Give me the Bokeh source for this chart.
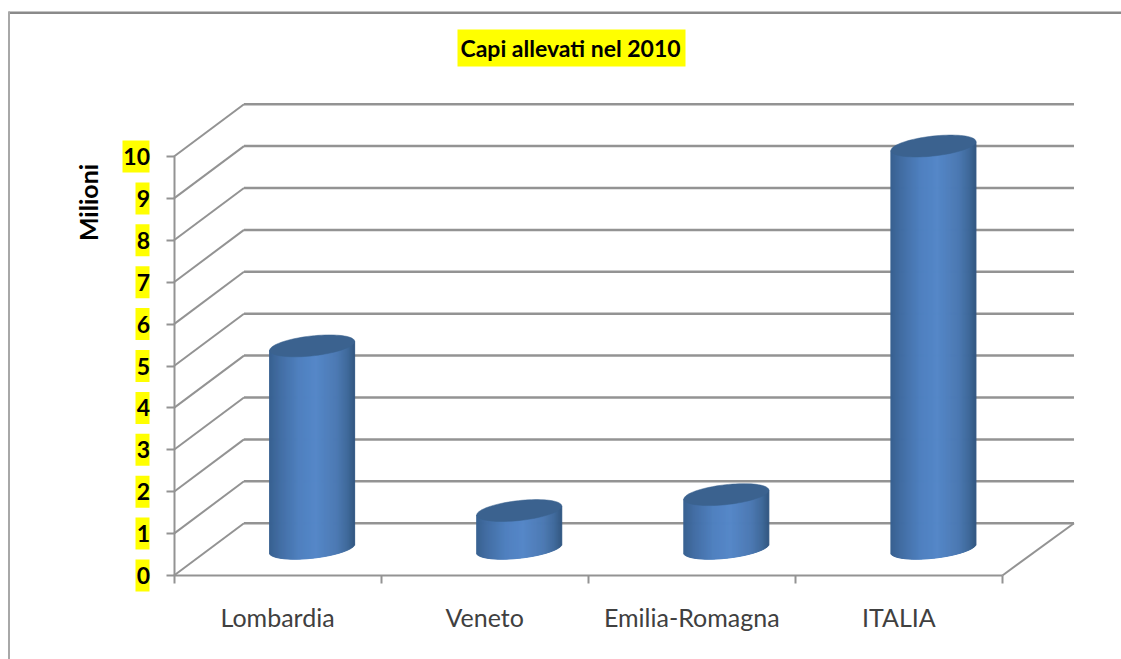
from bokeh.plotting import figure
from bokeh.models import FixedTicker, LinearAxis, Range1d
from bokeh.core.properties import value
from bokeh.embed import file_html
from bokeh.resources import INLINE
import numpy as np

categories = ["Lombardia", "Veneto", "Emilia-Romagna", "ITALIA"]
values = [4.83, 0.90, 1.28, 9.60]
y_ticks = list(range(0, 11))
title_text = "Capi allevati nel 2010"
y_title = "Milioni"

GRID = "#939393"
W, H = 1121, 659
X0, Y0 = 173.5, 575    # pixel of the (0, 0) corner
STEP_X = 207.1
STEP_Y = 41.9

def X(px):
    return (px - X0) / STEP_X
def Y(py):
    return (Y0 - py) / STEP_Y

p = figure(width=W, height=H, output_backend="svg", toolbar_location=None,
           x_range=Range1d(X(0), X(W)), y_range=Range1d(Y(H), Y(0)),
           x_axis_type=None, y_axis_type=None, min_border=0)
p.outline_line_color = None
p.background_fill_color = "white"
p.border_fill_color = "white"
p.xgrid.visible = False
p.ygrid.visible = False

yax = LinearAxis(ticker=FixedTicker(ticks=y_ticks), bounds=(0, 10), fixed_location=0)
yax.axis_line_color = GRID
yax.axis_line_width = 2
yax.major_tick_line_color = GRID
yax.major_tick_line_width = 2
yax.major_tick_out = 8
yax.major_tick_in = 0
yax.minor_tick_line_color = None
yax.major_label_standoff = 16
yax.major_label_text_font = "Lato"
yax.major_label_text_font_style = "bold"
yax.major_label_text_font_size = "23px"
yax.major_label_text_color = "black"
p.add_layout(yax, "left")

centers = [i + 0.5 for i in range(len(categories))]
edges = list(range(len(categories) + 1))
xax = LinearAxis(ticker=FixedTicker(ticks=centers, minor_ticks=edges), bounds=(0, len(categories)), fixed_location=0)
xax.major_label_overrides = {c: n for c, n in zip(centers, categories)}
xax.axis_line_color = GRID
xax.axis_line_width = 2
xax.major_tick_line_color = None
xax.minor_tick_line_color = GRID
xax.minor_tick_line_width = 2
xax.minor_tick_out = 8
xax.minor_tick_in = 0
xax.major_label_standoff = 18
xax.major_label_text_font = "Lato"
xax.major_label_text_font_size = "25px"
xax.major_label_text_color = "#404040"
p.add_layout(xax, "below")

# picture border, yellow boxes
def box(l, r, t, b, color):
    p.quad(left=[X(l)], right=[X(r)], top=[Y(t)], bottom=[Y(b)], fill_color=color, line_color=None)

box(8, W, 11, 13.5, "#8a8a8a")
box(7.5, 9.5, 11, H, "#a8a8a8")
box(457, 685, 29, 66, "#ffff00")
for v in y_ticks:
    yc = Y0 - v * STEP_Y
    box(122 if v == 10 else 135, 149, yc - 16, yc + 16, "#ffff00")

# 3-D walls
DX = 70 / STEP_X
DY = 52.3 / STEP_Y
right_end = X(1073.5)
for v in y_ticks:
    p.line([0, DX], [v, v + DY], line_color=GRID, line_width=2)
    p.line([DX, right_end], [v + DY, v + DY], line_color=GRID, line_width=2.5)
p.line([len(categories), right_end], [0, DY], line_color=GRID, line_width=2)

# cylinders
OFF = 0.667
A = 42.5 / STEP_X
S = 4.5 / STEP_Y
B = 10 / STEP_Y
BASE = 0.65
stops_u = [-1.0, -0.75, -0.3, 0.1, 0.6, 0.85, 1.0]
stops_c = [(0x38, 0x60, 0x90), (0x42, 0x6d, 0xa3), (0x4f, 0x80, 0xbf), (0x55, 0x87, 0xc8),
           (0x4c, 0x79, 0xb2), (0x3f, 0x69, 0x9a), (0x33, 0x58, 0x82)]
N = 85
ue = np.linspace(-1, 1, N + 1)
um = (ue[:-1] + ue[1:]) / 2
cols = ["#%02x%02x%02x" % tuple(int(round(np.interp(u, stops_u, [c[k] for c in stops_c]))) for k in range(3)) for u in um]
for i, val in enumerate(values):
    cx = i + OFF
    p.quad(left=cx + A * ue[:-1], right=cx + A * ue[1:],
           bottom=BASE + S * um - B * np.sqrt(1 - um ** 2),
           top=BASE + val + S * um,
           fill_color=cols, line_color=cols, line_width=1)
    t = np.linspace(0, 2 * np.pi, 80)
    p.patch(cx + A * np.cos(t), BASE + val + S * np.cos(t) + B * np.sin(t),
            fill_color="#3b628f", line_color="#3b628f", line_width=0.5)

# texts
p.text(x=[X(570)], y=[Y(47.5)], text=[title_text], text_font=value("Lato"), text_font_style="bold",
       text_font_size="23px", text_color="black", text_align="center", text_baseline="middle")
p.text(x=[X(87)], y=[Y(202)], text=[y_title], angle=np.pi / 2, text_font=value("Lato"), text_font_style="bold",
       text_font_size="25px", text_color="black", text_align="center", text_baseline="middle")

open("out.html", "w").write(file_html(p, INLINE))
